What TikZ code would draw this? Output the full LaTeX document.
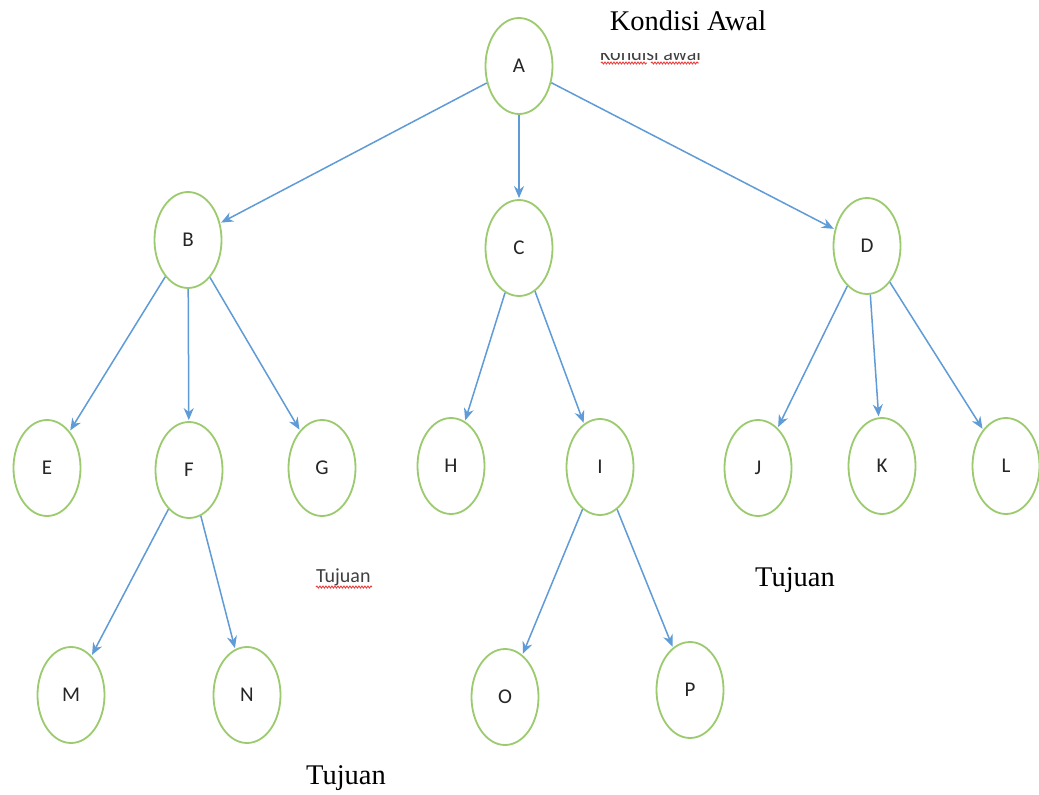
\documentclass[tikz,border=0pt]{standalone}
\usepackage{fontspec}
\setmainfont{Liberation Serif}
\newfontfamily\labelfont{Carlito}
\usetikzlibrary{shapes.geometric,arrows.meta,decorations.pathmorphing}
\definecolor{ringgreen}{RGB}{155,203,110}
\definecolor{edgeblue}{RGB}{95,155,215}
\definecolor{spellred}{RGB}{235,60,60}
\begin{document}
\begin{tikzpicture}[x=1pt,y=-1pt,
  state/.style={ellipse,draw=ringgreen,line width=1.8pt,fill=white,
    minimum width=67pt,minimum height=96pt,inner sep=0pt,
    font=\labelfont\fontsize{21}{21}\selectfont,text=black!85},
  edge/.style={draw=edgeblue,line width=1.5pt,
    -{Stealth[length=12pt,width=10pt]}, shorten >=1pt},
  caption/.style={font=\fontsize{28.5}{30}\selectfont,anchor=center,inner sep=0pt},
  note/.style={font=\labelfont\fontsize{20}{20}\selectfont,text=black!75,inner sep=0pt},
  squiggle/.style={draw=spellred,line width=0.9pt,
    decorate,decoration={snake,amplitude=1pt,segment length=3pt}}]
\useasboundingbox (0,0) rectangle (1039,795);
\fill[white] (0,0) rectangle (1039,795);

% level 0
\node[state] (A) at (519,66) {A};
% level 1
\node[state] (B) at (188,240) {B};
\node[state] (C) at (519,248) {C};
\node[state] (D) at (867,246) {D};
% level 2
\node[state] (E) at (47,468) {E};
\node[state] (F) at (189,470) {F};
\node[state] (G) at (322,468) {G};
\node[state] (H) at (451,466) {H};
\node[state] (I) at (600,467) {I};
\node[state] (J) at (758,468) {J};
\node[state] (K) at (882,466) {K};
\node[state] (L) at (1006,466) {L};
% level 3
\node[state] (M) at (71,695) {M};
\node[state] (N) at (247,695) {N};
\node[state] (O) at (505,697) {O};
\node[state] (P) at (690,690) {P};

% connectors
\draw[edge] (A) -- (B);
\draw[edge] (A) -- (C);
\draw[edge] (A) -- (D);
\draw[edge] (B) -- (E);
\draw[edge] (B) -- (F);
\draw[edge] (B) -- (G);
\draw[edge] (C) -- (H);
\draw[edge] (C) -- (I);
\draw[edge] (D) -- (J);
\draw[edge] (D) -- (K);
\draw[edge] (D) -- (L);
\draw[edge] (F) -- (M);
\draw[edge] (F) -- (N);
\draw[edge] (I) -- (O);
\draw[edge] (I) -- (P);

% captions
\node[caption] (start) at (688,21) {Kondisi Awal};
\node[caption] (goalR) at (795,580) {Tujuan};
\node[caption] (goalB) at (346,778) {Tujuan};

% small labels with spelling marks
\begin{scope}
  \clip (595,53) rectangle (705,66);
  \node[note,anchor=base west] (startnote) at (600,60) {Kondisi awal};
\end{scope}
\draw[squiggle] (601,63) -- (647,63);
\draw[squiggle] (651,63) -- (699,63);
\node[note,anchor=base west] (goalnote) at (316,582) {Tujuan};
\draw[squiggle] (316,587) -- (372,587);
\end{tikzpicture}
\end{document}
